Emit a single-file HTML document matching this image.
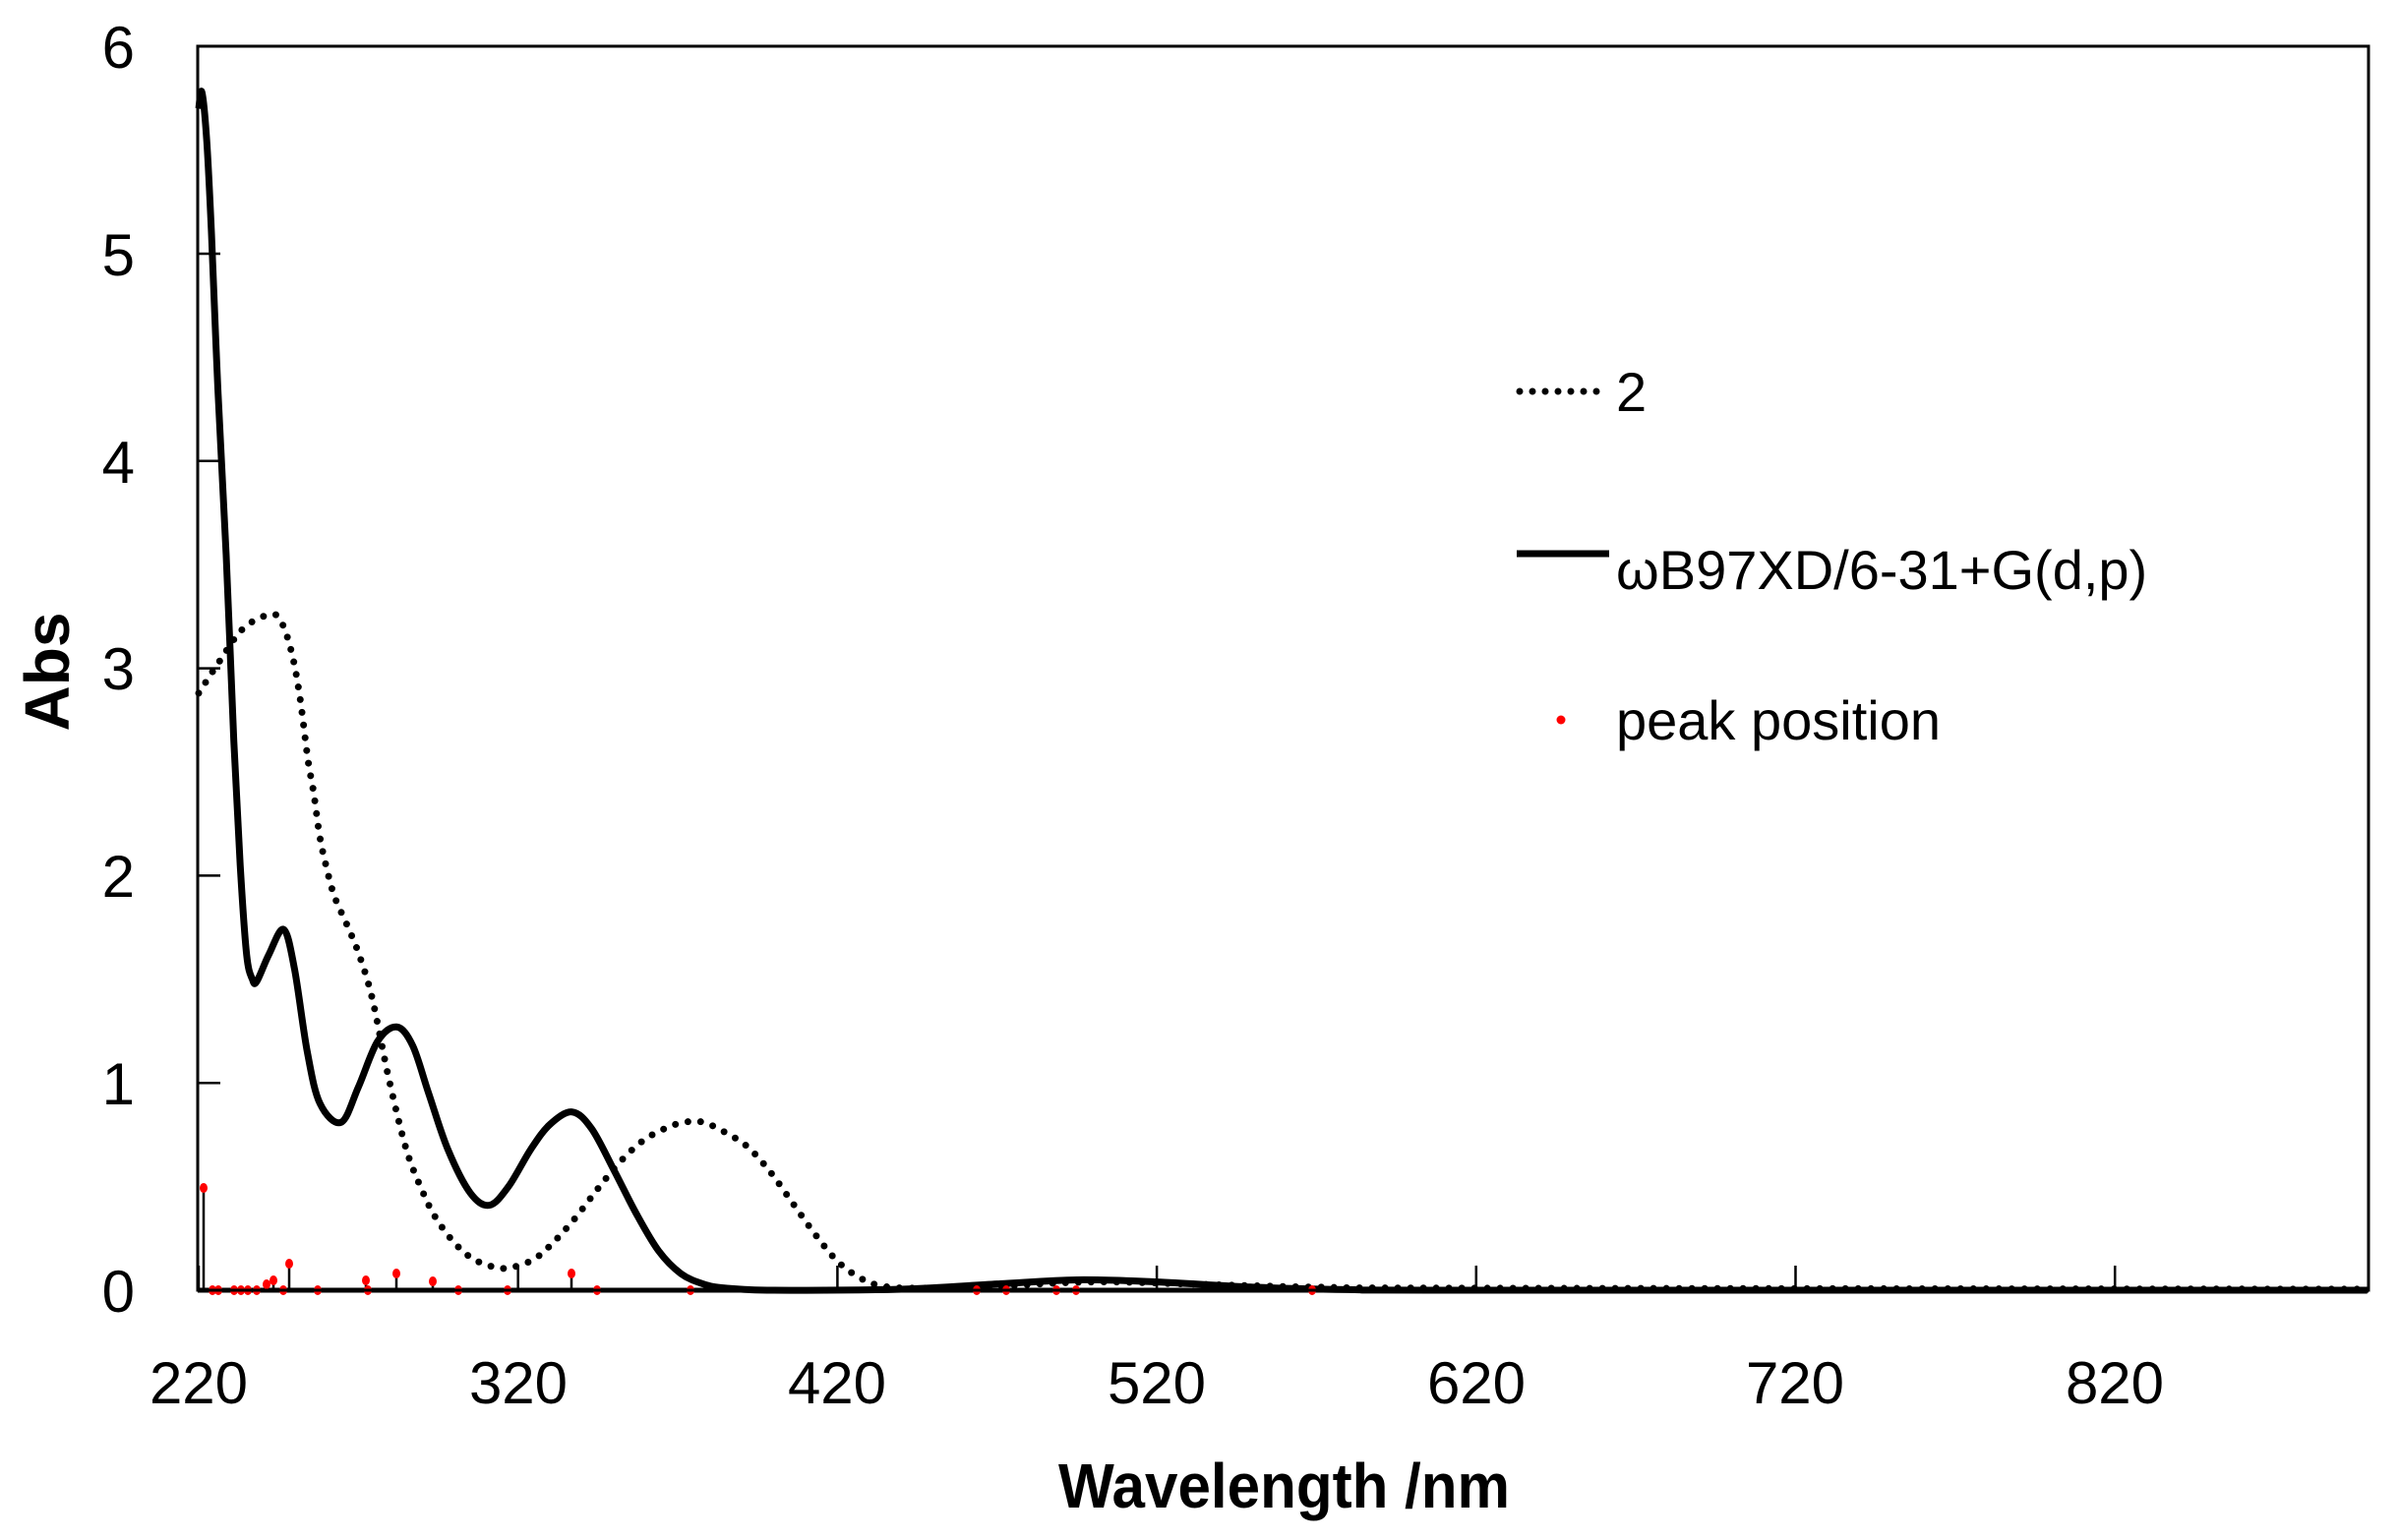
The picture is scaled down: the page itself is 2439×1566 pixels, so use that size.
<!DOCTYPE html>
<html><head><meta charset="utf-8"><style>
html,body{margin:0;padding:0;background:#fff;}
svg{display:block;}
text{font-family:"Liberation Sans",sans-serif;fill:#000;}
</style></head><body>
<svg id="s" width="2439" height="1566" viewBox="0 0 2439 1566" xmlns="http://www.w3.org/2000/svg">
<rect x="0" y="0" width="2439" height="1566" fill="#fff"/>
<g id="plot"></g>
<rect x="201" y="47" width="2207" height="1265" fill="none" stroke="#000" stroke-width="3"/>
<g font-size="60" text-anchor="end">
<text x="137" y="69">6</text>
<text x="137" y="280">5</text>
<text x="137" y="491">4</text>
<text x="137" y="701">3</text>
<text x="137" y="912">2</text>
<text x="137" y="1123">1</text>
<text x="137" y="1334">0</text>
</g>
<g font-size="60" text-anchor="middle">
<text x="202" y="1427">220</text>
<text x="527" y="1427">320</text>
<text x="851" y="1427">420</text>
<text x="1176" y="1427">520</text>
<text x="1501" y="1427">620</text>
<text x="1825" y="1427">720</text>
<text x="2150" y="1427">820</text>
</g>
<text x="1076" y="1533" font-size="64" font-weight="bold" textLength="459" lengthAdjust="spacingAndGlyphs">Wavelength /nm</text>
<text transform="translate(70,683) rotate(-90)" font-size="64" font-weight="bold" text-anchor="middle">Abs</text>
<line x1="1545" y1="398" x2="1630" y2="398" stroke="#000" stroke-width="7" stroke-linecap="round" stroke-dasharray="0 13"/>
<text x="1643" y="418" font-size="56">2</text>
<line x1="1542" y1="563" x2="1636" y2="563" stroke="#000" stroke-width="7"/>
<text x="1643" y="599" font-size="56">ωB97XD/6-31+G(d,p)</text>
<circle cx="1587" cy="732" r="4.5" fill="#f00"/>
<text x="1643" y="752" font-size="56">peak position</text>
</svg>
<script>
(function(){
var X=function(n){return 202+(n-220)*3.247;}, Y=function(a){return 1312-a*210.8;};
var solid=[[220,5.70],[221,5.78],[222.5,5.55],[224,5.1],[226,4.35],[228.6,3.55],[231,2.65],[233,2.05],[235,1.62],[236.8,1.5],[238.2,1.49],[242,1.62],[246.6,1.74],[250,1.55],[254,1.15],[258,0.9],[264.6,0.81],[270,0.98],[276,1.2],[282,1.27],[287,1.18],[292,0.95],[298,0.68],[305,0.47],[311,0.41],[317,0.5],[324,0.68],[330,0.8],[336.9,0.86],[343,0.78],[350,0.58],[357,0.37],[364,0.19],[371,0.08],[378,0.03],[385,0.01],[400,0],[440,0.005],[470,0.03],[495,0.05],[520,0.04],[550,0.015],[580,0.003],[620,0],[899,0]];
var dot=[[220,2.88],[225.5,3.01],[233.8,3.19],[242.5,3.26],[246,3.22],[249.2,3.07],[251.7,2.86],[254.2,2.56],[256,2.40],[257.9,2.19],[260,2.04],[262.5,1.90],[266.5,1.76],[270.2,1.62],[274.3,1.41],[279.4,1.03],[285,0.68],[290,0.48],[294.2,0.35],[300,0.23],[306,0.15],[313,0.11],[318,0.11],[325,0.15],[331,0.23],[338,0.35],[345,0.49],[352,0.62],[359,0.72],[366,0.78],[372,0.81],[378,0.81],[385,0.76],[392,0.69],[399,0.57],[406,0.42],[413,0.27],[420,0.14],[427,0.06],[434,0.02],[445,0.01],[470,0.02],[500,0.04],[530,0.03],[570,0.015],[620,0.01],[899,0.005]];
function path(p){var q=p.map(function(a){return [X(a[0]),Y(a[1])];});var d="M"+q[0][0].toFixed(1)+","+q[0][1].toFixed(1);
for(var i=0;i<q.length-1;i++){var p0=q[i-1]||q[i],p1=q[i],p2=q[i+1],p3=q[i+2]||p2;
var c1=[p1[0]+(p2[0]-p0[0])/6,p1[1]+(p2[1]-p0[1])/6],c2=[p2[0]-(p3[0]-p1[0])/6,p2[1]-(p3[1]-p1[1])/6];
d+=" C"+c1.join(",")+" "+c2.join(",")+" "+p2.join(",");}return d;}
var g=document.getElementById("plot"),h="";
[220,320,420,520,620,720,820].forEach(function(n){h+='<line x1="'+X(n)+'" y1="1312" x2="'+X(n)+'" y2="1287" stroke="#000" stroke-width="2.5"/>';});
[1,2,3,4,5].forEach(function(a){h+='<line x1="201" y1="'+Y(a)+'" x2="224" y2="'+Y(a)+'" stroke="#000" stroke-width="2.5"/>';});
h+='<path d="'+path(dot)+'" fill="none" stroke="#000" stroke-width="7" stroke-linecap="round" stroke-dasharray="0 13"/>';
h+='<path d="'+path(solid)+'" fill="none" stroke="#000" stroke-width="7" stroke-linejoin="round"/>';
h+='<line x1="201" y1="1312" x2="2408" y2="1312" stroke="#000" stroke-width="5"/>';
var pk=[[207,104],[216,0],[222,0],[238,0],[245,0],[252,0],[261,0],[271,6],[278,10],[288,0],[294,27],[323,0],[372,10],[374,0],[403,17],[440,9],[466,0],[516,0],[581,17],[607,0],[702,0],[993,0],[1023,0],[1074,0],[1094,0],[1334,0]];
pk.forEach(function(p){if(p[1]>0)h+='<line x1="'+p[0]+'" y1="1312" x2="'+p[0]+'" y2="'+(1312-p[1])+'" stroke="#000" stroke-width="2.5"/>';
h+='<ellipse cx="'+p[0]+'" cy="'+(1312-p[1])+'" rx="4" ry="5" fill="#f00"/>';});
g.innerHTML=h;
})();
</script>
</body></html>
